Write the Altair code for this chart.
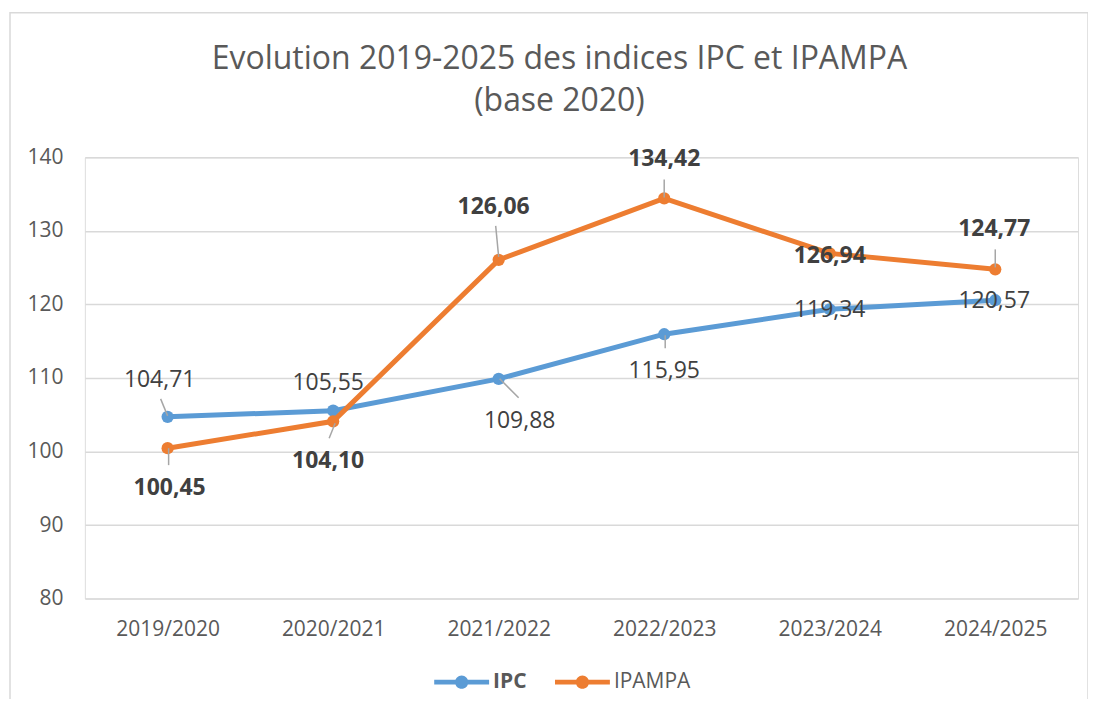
import altair as alt
import pandas as pd

# ---- data ----
categories = ["2019/2020", "2020/2021", "2021/2022", "2022/2023", "2023/2024", "2024/2025"]
ipc = [104.71, 105.55, 109.88, 115.95, 119.34, 120.57]
ipampa = [100.45, 104.10, 126.06, 134.42, 126.94, 124.77]
series_names = ["IPC", "IPAMPA"]
y_ticks = [80, 90, 100, 110, 120, 130, 140]
title_lines = ["Evolution 2019-2025 des indices IPC et IPAMPA", "(base 2020)"]

# ---- styling (label placement, pixel offsets) ----
colors = ["#5B9BD5", "#ED7D31"]
ipc_label_off = [(-8, -37), (-5, -28), (21, 42), (0, 37), (0, 1), (-1, 1)]
ipampa_label_off = [(2, 40), (-5, 40), (-5, -53), (0, -39), (0, 3), (-1, -40)]
# leader lines: (series, index, (x0, y0), (x1, y1)) relative to point in px
leaders = [
    ("IPC", 0, (-7, -18), (0, -1)),
    ("IPC", 2, (1, 0), (20, 19)),
    ("IPC", 3, (1, 1), (1, 14)),
    ("IPAMPA", 0, (1, 0), (1, 17)),
    ("IPAMPA", 1, (2, 2), (-4, 17)),
    ("IPAMPA", 2, (-3, -34), (0, -3)),
    ("IPAMPA", 3, (0, -19), (0, -1)),
    ("IPAMPA", 5, (0, -20), (0, -2)),
]

FONT = "Open Sans"
TXT = "#595959"
LBL = "#404040"

rows = []
for name, vals in zip(series_names, [ipc, ipampa]):
    for c, v in zip(categories, vals):
        rows.append({"cat": c, "v": v, "series": name})
df = pd.DataFrame(rows)

W, H = 995, 442

x_enc = alt.X("cat:N", scale=alt.Scale(domain=categories, type="point", padding=0.5),
              axis=alt.Axis(title=None, labelAngle=0, labelFontSize=21, labelColor=TXT,
                            labelFont=FONT, ticks=False, domain=False, grid=False,
                            labelPadding=20))
y_enc = alt.Y("v:Q", scale=alt.Scale(domain=[80, 140], nice=False, zero=False),
              axis=alt.Axis(title=None, values=y_ticks, labelFontSize=21, labelColor=TXT,
                            labelFont=FONT, ticks=False, domain=False, grid=True,
                            gridColor="#d9d9d9", gridWidth=1.5, labelPadding=22))

leg_shape = ("M-1,-0.09 L1,-0.09 L1,0.09 L-1,0.09 Z "
             "M-0.24,0 A0.24,0.24 0 1,1 0.24,0 A0.24,0.24 0 1,1 -0.24,0 Z")

color_enc = alt.Color("series:N", scale=alt.Scale(domain=series_names, range=colors),
                      legend=alt.Legend(title=None, orient="none", direction="horizontal",
                                        legendX=350, legendY=498,
                                        symbolType=leg_shape, symbolSize=3025,
                                        symbolStrokeWidth=0,
                                        labelFontSize=21, labelFont=FONT, labelColor=TXT,
                                        labelFontWeight=alt.ExprRef(expr="datum.label == 'IPC' ? 'bold' : 'normal'"),
                                        labelOffset=4, columnPadding=28))

base = alt.Chart(df)

layers = []
# frame around the chart
frame = alt.Chart(pd.DataFrame({"f": [0]})).mark_rect(
    fill=None, stroke="#d9d9d9", strokeWidth=1.5, clip=False
).encode(x=alt.value(-75), x2=alt.value(1005), y=alt.value(-145), y2=alt.value(549))
layers.append(frame)

for name in series_names:
    sub = base.transform_filter(alt.datum.series == name)
    layers.append(sub.mark_line(strokeWidth=5).encode(x=x_enc, y=y_enc, color=color_enc))
    layers.append(sub.mark_point(filled=True, size=150, opacity=1).encode(x=x_enc, y=y_enc, color=color_enc))

# leader lines
for name, idx, (x0, y0), (x1, y1) in leaders:
    vals = ipc if name == "IPC" else ipampa
    d = pd.DataFrame({"cat": [categories[idx]], "v": [vals[idx]]})
    layers.append(alt.Chart(d).mark_rule(color="#a6a6a6", strokeWidth=1.5,
                                         xOffset=x0, yOffset=y0, x2Offset=x1, y2Offset=y1).encode(
        x=alt.X("cat:N"), x2="cat:N", y=alt.Y("v:Q"), y2="v:Q"))

# data labels
for name, vals, offs, weight in [("IPC", ipc, ipc_label_off, "normal"),
                                 ("IPAMPA", ipampa, ipampa_label_off, "bold")]:
    for i, (c, v) in enumerate(zip(categories, vals)):
        d = pd.DataFrame({"cat": [c], "v": [v], "t": [f"{v:.2f}".replace(".", ",")]})
        dx, dy = offs[i]
        layers.append(alt.Chart(d).mark_text(font=FONT, fontSize=23, fontWeight=weight,
                                             color=LBL, dx=dx, dy=dy, baseline="middle",
                                             align="center").encode(
            x=alt.X("cat:N"), y=alt.Y("v:Q"), text="t:N"))

chart = alt.layer(*layers).properties(
    width=W, height=H,
    title=alt.TitleParams(text=title_lines, fontSize=32, font=FONT, fontWeight="normal",
                          color=TXT, lineHeight=42, anchor="middle", frame="group",
                          dx=-22, offset=-106),
    autosize=alt.AutoSizeParams(type="none"),
    padding={"left": 77, "top": 149, "right": 10, "bottom": 100},
).configure_view(stroke=None).configure(background="white")

chart.save("out.html", embed_options={"renderer": "svg", "actions": False})
